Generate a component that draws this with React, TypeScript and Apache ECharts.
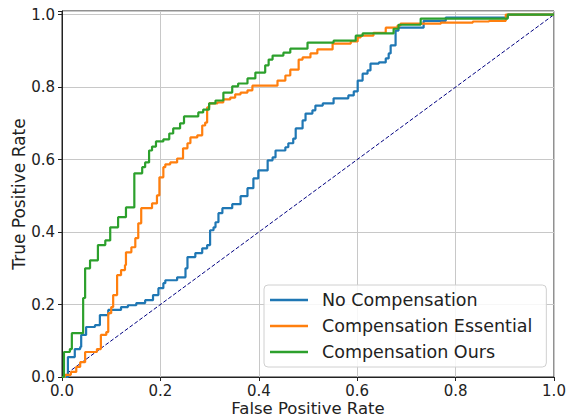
import React, { useEffect, useRef } from "react";
import * as echarts from "echarts";

const seriesNames = ["No Compensation", "Compensation Essential", "Compensation Ours"];
const seriesColors = ["#1f77b4", "#ff7f0e", "#2ca02c"];

const noCompFpr = [0, 0.012, 0.026, 0.037, 0.039, 0.049, 0.067, 0.077, 0.094, 0.12, 0.134, 0.151, 0.169, 0.185, 0.196, 0.206, 0.21, 0.234, 0.251, 0.255, 0.271, 0.285, 0.295, 0.301, 0.308, 0.312, 0.318, 0.326, 0.346, 0.363, 0.377, 0.389, 0.399, 0.418, 0.428, 0.434, 0.454, 0.46, 0.47, 0.475, 0.489, 0.495, 0.509, 0.515, 0.53, 0.552, 0.582, 0.593, 0.601, 0.611, 0.621, 0.627, 0.644, 0.658, 0.664, 0.668, 0.678, 0.684, 0.735, 0.78, 0.906, 1];
const noCompTpr = [0, 0.055, 0.077, 0.083, 0.116, 0.138, 0.143, 0.171, 0.185, 0.193, 0.198, 0.204, 0.212, 0.226, 0.245, 0.259, 0.267, 0.275, 0.3, 0.331, 0.342, 0.355, 0.364, 0.405, 0.413, 0.427, 0.452, 0.466, 0.477, 0.499, 0.521, 0.548, 0.57, 0.598, 0.606, 0.625, 0.634, 0.645, 0.658, 0.686, 0.708, 0.727, 0.736, 0.749, 0.755, 0.769, 0.777, 0.788, 0.818, 0.837, 0.846, 0.865, 0.868, 0.879, 0.893, 0.915, 0.956, 0.964, 0.983, 0.992, 1, 1];

const essentialFpr = [0, 0.006, 0.018, 0.029, 0.037, 0.047, 0.071, 0.079, 0.09, 0.094, 0.1, 0.104, 0.112, 0.12, 0.128, 0.13, 0.141, 0.149, 0.155, 0.161, 0.183, 0.193, 0.198, 0.206, 0.21, 0.22, 0.234, 0.246, 0.255, 0.261, 0.275, 0.285, 0.291, 0.295, 0.299, 0.316, 0.328, 0.342, 0.352, 0.363, 0.377, 0.387, 0.438, 0.454, 0.464, 0.481, 0.489, 0.505, 0.519, 0.55, 0.587, 0.601, 0.607, 0.633, 0.658, 0.682, 0.688, 0.77, 0.835, 0.868, 0.902, 1];
const essentialTpr = [0, 0.006, 0.014, 0.028, 0.041, 0.069, 0.077, 0.116, 0.124, 0.176, 0.193, 0.226, 0.281, 0.295, 0.309, 0.344, 0.358, 0.383, 0.424, 0.466, 0.479, 0.501, 0.551, 0.579, 0.587, 0.592, 0.603, 0.631, 0.645, 0.661, 0.667, 0.694, 0.702, 0.744, 0.755, 0.758, 0.766, 0.771, 0.78, 0.785, 0.791, 0.804, 0.818, 0.832, 0.848, 0.876, 0.882, 0.893, 0.904, 0.92, 0.926, 0.937, 0.942, 0.95, 0.964, 0.97, 0.975, 0.978, 0.981, 0.983, 1, 1];

const oursFpr = [0, 0.004, 0.016, 0.02, 0.043, 0.047, 0.057, 0.073, 0.088, 0.098, 0.114, 0.13, 0.147, 0.163, 0.169, 0.177, 0.183, 0.191, 0.206, 0.218, 0.226, 0.24, 0.248, 0.277, 0.287, 0.299, 0.312, 0.328, 0.346, 0.358, 0.377, 0.393, 0.413, 0.42, 0.428, 0.45, 0.464, 0.499, 0.552, 0.597, 0.611, 0.674, 0.684, 0.729, 0.906, 1];
const oursTpr = [0, 0.069, 0.077, 0.121, 0.218, 0.3, 0.322, 0.364, 0.377, 0.413, 0.441, 0.468, 0.562, 0.579, 0.592, 0.625, 0.636, 0.65, 0.656, 0.672, 0.686, 0.7, 0.719, 0.73, 0.738, 0.755, 0.763, 0.785, 0.802, 0.81, 0.824, 0.84, 0.86, 0.876, 0.887, 0.895, 0.906, 0.923, 0.928, 0.942, 0.948, 0.961, 0.972, 0.989, 1, 1];

const chanceX = [0, 1];
const chanceY = [0, 1];

const tickValues = [0, 0.2, 0.4, 0.6, 0.8, 1.0];

const zip = (xs: number[], ys: number[]) => xs.map((x, i) => [x, ys[i]]);

const FONT = "DejaVu Sans";

export default function App() {
  const ref = useRef<HTMLDivElement>(null);
  useEffect(() => {
    if (!ref.current) return;
    const chart = echarts.init(ref.current, undefined, { renderer: "svg" });
    const fmt = (v: number) =>
      tickValues.some((t) => Math.abs(t - v) < 1e-6) ? v.toFixed(1) : "";
    const curves = [
      zip(noCompFpr, noCompTpr),
      zip(essentialFpr, essentialTpr),
      zip(oursFpr, oursTpr),
    ];
    chart.setOption({
      animation: false,
      backgroundColor: "#ffffff",
      grid: {
        left: 62,
        right: 14,
        top: 11,
        bottom: 41,
        show: true,
        borderColor: "#222",
        borderWidth: 1,
        containLabel: false,
        outerBoundsMode: "none",
      },
      xAxis: {
        type: "value",
        min: 0,
        max: 1,
        interval: 0.2,
        name: "False Positive Rate",
        nameLocation: "middle",
        nameGap: 23,
        nameMoveOverlap: false,
        nameTextStyle: { fontFamily: FONT, fontSize: 16.5, color: "#222" },
        axisLine: { show: true, onZero: false, lineStyle: { color: "#222", width: 1 } },
        axisTick: { show: true, inside: false, length: 4, lineStyle: { color: "#222" } },
        axisLabel: { formatter: fmt, fontFamily: FONT, fontSize: 15, color: "#222", margin: 6 },
        splitLine: { show: true, lineStyle: { color: "#c8c8c8", width: 1 } },
      },
      yAxis: {
        type: "value",
        min: 0,
        max: 1.01,
        interval: 0.2,
        name: "True Positive Rate",
        nameLocation: "middle",
        nameGap: 35,
        nameMoveOverlap: false,
        nameTextStyle: { fontFamily: FONT, fontSize: 17, color: "#222" },
        axisLine: { show: true, onZero: false, lineStyle: { color: "#222", width: 1 } },
        axisTick: { show: true, inside: false, length: 4, lineStyle: { color: "#222" } },
        axisLabel: { formatter: fmt, fontFamily: FONT, fontSize: 15, color: "#222", margin: 7 },
        splitLine: { show: true, lineStyle: { color: "#c8c8c8", width: 1 } },
      },
      legend: {
        orient: "vertical",
        left: 264,
        top: 285,
        padding: [5, 14, 5, 6],
        itemGap: 6,
        itemWidth: 38,
        itemHeight: 2.5,
        icon: "rect",
        backgroundColor: "rgba(255,255,255,0.85)",
        borderColor: "#d0d0d0",
        borderWidth: 1,
        borderRadius: 4,
        textStyle: {
          fontFamily: FONT,
          fontSize: 17.5,
          color: "#222",
          lineHeight: 20,
          padding: [0, 0, 0, 9],
        },
        data: seriesNames,
      },
      series: [
        {
          type: "line",
          data: zip(chanceX, chanceY),
          showSymbol: false,
          silent: true,
          lineStyle: { color: "#000080", width: 1, type: [4, 2] },
          z: 1,
        },
        ...curves.map((d, i) => ({
          name: seriesNames[i],
          type: "line",
          step: "end",
          data: d,
          showSymbol: false,
          color: seriesColors[i],
          lineStyle: { color: seriesColors[i], width: 2.2 },
          z: 2 + i,
        })),
      ],
    });
    return () => chart.dispose();
  }, []);
  return (
    <div
      ref={ref}
      style={{ position: "fixed", left: 0, top: 0, width: 568, height: 418 }}
    />
  );
}
